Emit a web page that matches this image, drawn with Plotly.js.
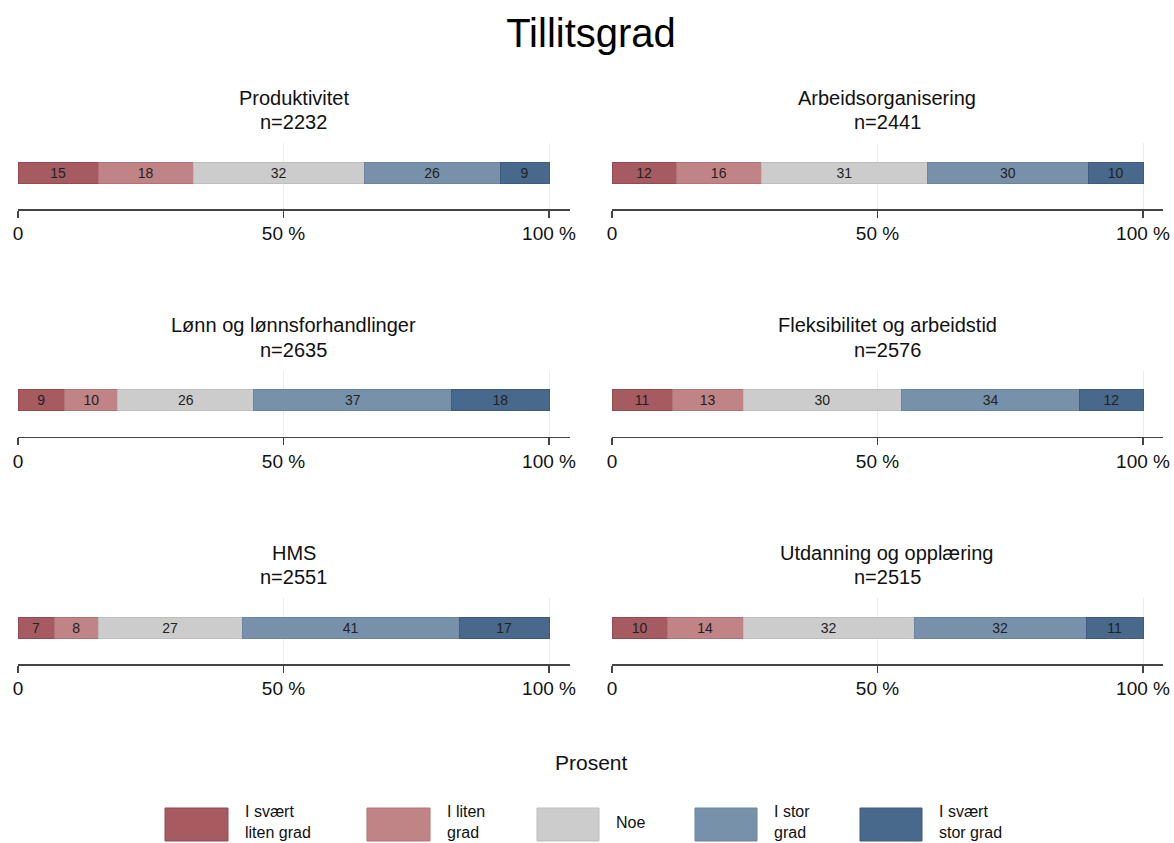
<!DOCTYPE html>
<html>
<head>
<meta charset="utf-8">
<script src="https://cdn.plot.ly/plotly-3.0.1.min.js"></script>
<style>
  html, body { margin: 0; padding: 0; background: #fff; }
  #chart { width: 1174px; height: 843px; }
</style>
</head>
<body>
<div id="chart"></div>
<script>
// ---- data ----
const chartTitle = 'Tillitsgrad';
const axisTitle = 'Prosent';
const categories = ['I svært<br>liten grad', 'I liten<br>grad', 'Noe', 'I stor<br>grad', 'I svært<br>stor grad'];
const topics = ['Produktivitet', 'Arbeidsorganisering', 'Lønn og lønnsforhandlinger', 'Fleksibilitet og arbeidstid', 'HMS', 'Utdanning og opplæring'];
const nValues = [2232, 2441, 2635, 2576, 2551, 2515];
const produktivitet = [15.1, 17.9, 32.2, 25.6, 9.2];
const arbeidsorganisering = [12.1, 16.0, 31.3, 30.3, 10.3];
const lonn = [8.8, 10.0, 25.6, 37.3, 18.3];
const fleksibilitet = [11.3, 13.4, 29.8, 33.6, 11.9];
const hms = [6.8, 8.3, 27.1, 40.9, 16.9];
const utdanning = [10.4, 14.3, 32.2, 32.4, 10.7];
const tickVals = [0, 50, 100];
const tickText = ['0', '50 %', '100 %'];

// ---- styles ----
const colors = ['#a65b61', '#c08486', '#cccccc', '#7891aa', '#48698b'];
const lineColors = ['#944a50', '#b07477', '#bdbdbd', '#6b84a0', '#3d5c7e'];
const FONT = '"Liberation Sans", Arial, Helvetica, sans-serif';
const NARROW = '"Liberation Sans Narrow", "Arial Narrow", "Liberation Sans", Arial, sans-serif';
const W = 1174, H = 843;
const series = [produktivitet, arbeidsorganisering, lonn, fleksibilitet, hms, utdanning];

const colPx = [[18, 570], [612, 1163]];
const rowAxisPx = [209, 436.5, 664];
const plotH = 66;
const px2x = p => p / W;
const px2y = p => 1 - p / H;

const traces = [];
const layout = {
  width: W, height: H, autosize: false,
  margin: {l: 0, r: 0, t: 0, b: 0},
  paper_bgcolor: '#ffffff', plot_bgcolor: '#ffffff',
  font: {family: FONT, color: '#111'},
  barmode: 'stack',
  showlegend: false,
  title: {text: chartTitle, x: 591 / W, xref: 'paper', xanchor: 'center', y: px2y(33), yref: 'paper', yanchor: 'middle',
          font: {size: 40, family: FONT, color: '#000'}},
  annotations: [],
  shapes: []
};

topics.forEach((topic, p) => {
  const col = p % 2, row = Math.floor(p / 2);
  const idx = p + 1;
  const xName = 'x' + (idx === 1 ? '' : idx), yName = 'y' + (idx === 1 ? '' : idx);
  const xKey = 'xaxis' + (idx === 1 ? '' : idx), yKey = 'yaxis' + (idx === 1 ? '' : idx);
  const vals = series[p];
  categories.forEach((cat, s) => {
    traces.push({
      type: 'bar', orientation: 'h',
      x: [vals[s]], y: [0], width: [1],
      xaxis: xName, yaxis: yName,
      name: cat.replace('<br>', ' '),
      marker: {color: colors[s], line: {color: lineColors[s], width: 1}},
      texttemplate: '%{x:.0f}', textposition: 'inside', insidetextanchor: 'middle',
      textangle: 0, constraintext: 'none',
      textfont: {size: 14, color: '#222', family: FONT},
      hoverinfo: 'name+x'
    });
  });
  const [x0, x1] = colPx[col];
  const axisPx = rowAxisPx[row];
  layout[xKey] = {
    domain: [px2x(x0), px2x(x1)],
    anchor: yName,
    range: [0, 100 * (x1 - x0) / 531],
    tickvals: tickVals, ticktext: tickText,
    ticks: 'outside', ticklen: 7, tickwidth: 1.5, tickcolor: '#444',
    showline: true, linecolor: '#444', linewidth: 1.5,
    showgrid: true, gridcolor: '#ebebeb', gridwidth: 1,
    zeroline: false, fixedrange: true,
    tickfont: {size: 19, family: FONT, color: '#111'}
  };
  const barCenterPx = axisPx - 36.5;
  const unit = 21;
  const lo = -(axisPx - barCenterPx) / unit;
  const hi = lo + plotH / unit;
  layout[yKey] = {
    domain: [px2y(axisPx), px2y(axisPx - plotH)],
    anchor: xName,
    range: [lo, hi],
    showticklabels: false, showgrid: false, zeroline: false, showline: false,
    ticks: '', fixedrange: true
  };
  const cx = px2x((x0 + x1) / 2);
  layout.annotations.push({
    text: topic, xref: 'paper', yref: 'paper', x: cx, y: px2y(axisPx - 111),
    xanchor: 'center', yanchor: 'middle', showarrow: false,
    font: {size: 20, family: FONT, color: '#111'}
  });
  layout.annotations.push({
    text: 'n=' + nValues[p], xref: 'paper', yref: 'paper', x: cx, y: px2y(axisPx - 87),
    xanchor: 'center', yanchor: 'middle', showarrow: false,
    font: {size: 20, family: FONT, color: '#111'}
  });
});

layout.annotations.push({
  text: axisTitle, xref: 'paper', yref: 'paper', x: 592 / W, y: px2y(762),
  xanchor: 'center', yanchor: 'middle', showarrow: false,
  font: {size: 21, family: FONT, color: '#111'}
});

// legend (custom, large swatches)
const swatchPx = [[165, 228], [367, 430], [537, 599], [695, 757], [860, 922]];
categories.forEach((cat, s) => {
  const [a, b] = swatchPx[s];
  layout.shapes.push({
    type: 'rect', xref: 'paper', yref: 'paper',
    x0: px2x(a), x1: px2x(b), y0: px2y(841), y1: px2y(808),
    fillcolor: colors[s], line: {color: lineColors[s], width: 1}
  });
  layout.annotations.push({
    text: cat, xref: 'paper', yref: 'paper', x: px2x(b + 15), y: px2y(822),
    xanchor: 'left', yanchor: 'middle', align: 'left', showarrow: false,
    font: {size: 16, family: NARROW, color: '#111'}
  });
});

Plotly.newPlot('chart', traces, layout, {displayModeBar: false, staticPlot: true});
</script>
</body>
</html>
